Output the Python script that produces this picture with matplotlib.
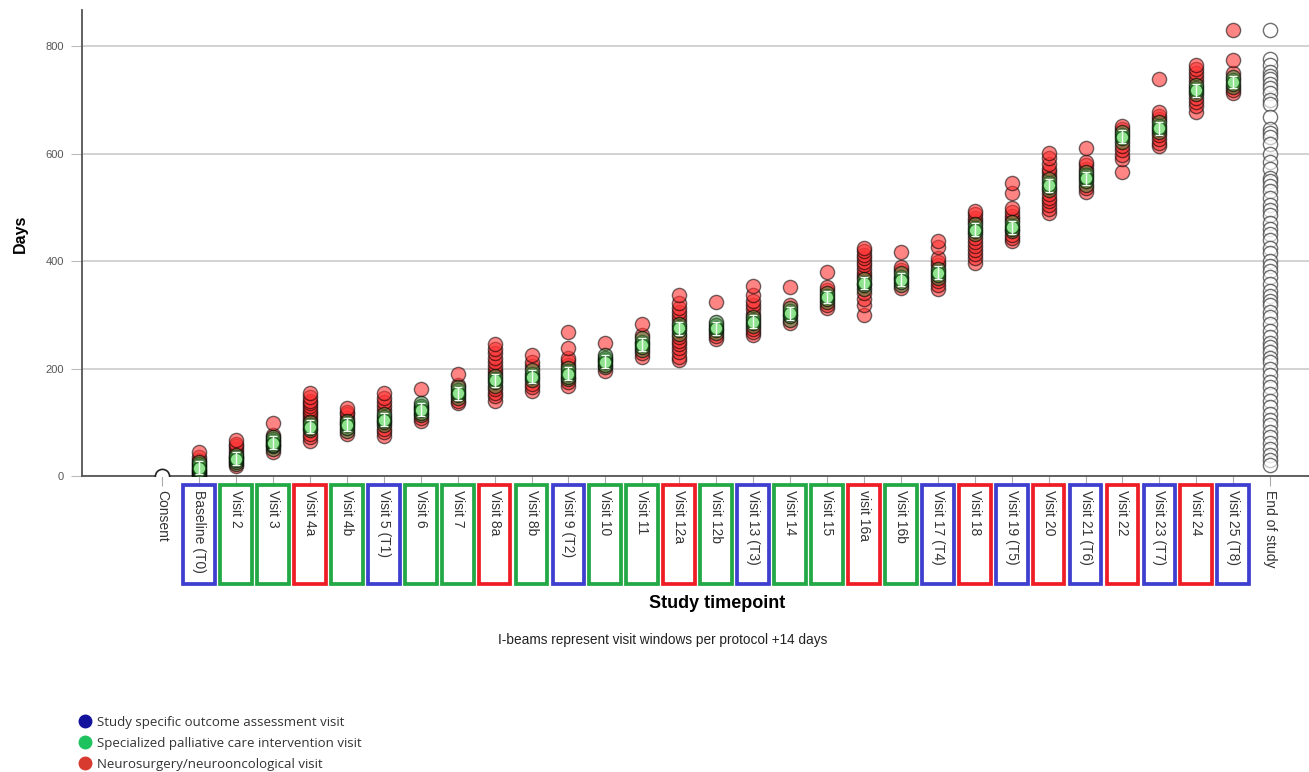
import matplotlib
matplotlib.use("Agg")
import matplotlib.pyplot as plt
from matplotlib.patches import Rectangle
from matplotlib.lines import Line2D
import matplotlib.transforms as mtransforms

# timepoint labels along the x axis
timepoints = ["Consent", "Baseline (T0)", "Visit 2", "Visit 3", "Visit 4a", "Visit 4b",
              "Visit 5 (T1)", "Visit 6", "Visit 7", "Visit 8a", "Visit 8b", "Visit 9 (T2)",
              "Visit 10", "Visit 11", "Visit 12a", "Visit 12b", "Visit 13 (T3)", "Visit 14",
              "Visit 15", "visit 16a", "Visit 16b", "Visit 17 (T4)", "Visit 18",
              "Visit 19 (T5)", "Visit 20", "Visit 21 (T6)", "Visit 22", "Visit 23 (T7)",
              "Visit 24", "Visit 25 (T8)", "End of study"]

# visit type of each box: A = outcome assessment, P = palliative care, N = neurosurgery
visit_types = ["", "A", "P", "P", "N", "P", "A", "P", "P", "N", "P", "A", "P", "P", "N", "P",
               "A", "P", "P", "N", "P", "A", "N", "A", "N", "A", "N", "A", "N", "A", ""]

# observed day of each visit (one list per timepoint)
consent = [0]
baseline = [0, 3, 6, 9, 12, 15, 18, 22, 26, 30, 35, 45]
visit2 = [18, 22, 26, 30, 33, 36, 40, 45, 50, 55, 60, 67]
visit3 = [45, 50, 55, 58, 62, 65, 68, 72, 76, 99]
visit4a = [65, 72, 78, 85, 90, 95, 100, 105, 110, 115, 120, 125, 130, 135, 140, 147, 155]
visit4b = [78, 84, 90, 94, 98, 103, 108, 115, 120, 127]
visit5 = [75, 82, 88, 95, 100, 105, 110, 116, 122, 130, 138, 146, 155]
visit6 = [102, 108, 113, 118, 122, 126, 130, 135, 162]
visit7 = [135, 140, 146, 151, 155, 160, 165, 170, 190]
visit8a = [140, 148, 155, 162, 168, 174, 180, 186, 192, 198, 205, 212, 220, 228, 236, 246]
visit8b = [158, 165, 172, 178, 184, 190, 197, 205, 213, 226]
visit9 = [168, 175, 180, 185, 190, 195, 201, 207, 214, 220, 238, 268]
visit10 = [196, 202, 207, 212, 216, 220, 225, 248]
visit11 = [222, 228, 234, 240, 245, 250, 256, 262, 282]
visit12a = [215, 222, 230, 238, 245, 252, 258, 265, 271, 277, 283, 290, 297, 305, 313, 322, 336]
visit12b = [255, 260, 266, 271, 276, 281, 287, 324]
visit13 = [262, 268, 274, 280, 285, 290, 296, 302, 310, 318, 325, 336, 354]
visit14 = [285, 291, 297, 302, 307, 313, 318, 352]
visit15 = [312, 318, 324, 330, 335, 340, 346, 352, 380]
visit16a = [300, 318, 330, 340, 348, 355, 360, 366, 372, 378, 385, 392, 398, 405, 412, 418, 424]
visit16b = [350, 355, 361, 366, 371, 377, 383, 388, 416]
visit17 = [348, 355, 362, 368, 374, 379, 385, 392, 398, 405, 426, 437]
visit18 = [396, 405, 413, 420, 428, 436, 443, 450, 456, 462, 468, 474, 480, 487, 493]
visit19 = [437, 443, 449, 455, 460, 466, 472, 478, 484, 491, 498, 526, 545]
visit20 = [490, 497, 504, 511, 518, 525, 532, 538, 545, 552, 558, 565, 572, 580, 592, 601]
visit21 = [528, 535, 542, 548, 554, 560, 566, 572, 578, 584, 610]
visit22 = [566, 590, 598, 606, 614, 622, 628, 634, 640, 646, 652]
visit23 = [614, 620, 627, 634, 640, 646, 652, 658, 664, 670, 677, 739]
visit24 = [678, 688, 696, 703, 710, 716, 722, 728, 735, 742, 750, 758, 765]
visit25 = [712, 718, 724, 730, 736, 742, 750, 774, 830]
end_of_study = [830, 775, 765, 752, 745, 738, 730, 722, 712, 700, 692, 668, 645, 638, 630,
                618, 600, 585, 572, 555, 548, 540, 530, 518, 505, 495, 485, 470, 460, 450,
                440, 425, 415, 400, 390, 382, 370, 358, 345, 335, 325, 318, 305, 295, 282,
                270, 258, 248, 240, 230, 220, 212, 200, 188, 175, 165, 152, 140, 128, 115,
                105, 95, 82, 72, 62, 50, 40, 30, 20]

visits = [baseline, visit2, visit3, visit4a, visit4b, visit5, visit6, visit7, visit8a,
          visit8b, visit9, visit10, visit11, visit12a, visit12b, visit13, visit14, visit15,
          visit16a, visit16b, visit17, visit18, visit19, visit20, visit21, visit22, visit23,
          visit24, visit25]

# protocol day of each visit (centre of the I-beam)
protocol_day = [15, 32, 62, 92, 95, 105, 123, 154, 178, 185, 190, 213, 244, 275, 275,
                287, 303, 333, 359, 365, 378, 458, 463, 541, 554, 631, 647, 718, 733]
window_half = 12

box_colors = {"A": "#3f3fcf", "P": "#22a845", "N": "#ee1d25"}
legend_labels = ["Study specific outcome assessment visit",
                 "Specialized palliative care intervention visit",
                 "Neurosurgery/neurooncological visit"]
legend_colors = ["#12129c", "#1fc35e", "#d93a30"]

plt.rcParams["font.family"] = ["Liberation Sans", "DejaVu Sans"]

fig = plt.figure(figsize=(13.09, 7.72), dpi=100)
ax = fig.add_axes([82 / 1309, 1 - 476 / 772, 1 - 82 / 1309, 466 / 772])

# individual visits, green inside the visit window, red outside
for i, days in enumerate(visits, start=1):
    centre = protocol_day[i - 1]
    inside = [d for d in days if abs(d - centre) <= window_half]
    outside = [d for d in days if abs(d - centre) > window_half]
    ax.scatter([i] * len(outside), outside, s=105, facecolor=(1.0, 0.2, 0.2, 0.6),
               edgecolor=(0, 0, 0, 0.55), linewidth=1.0, zorder=3)
    ax.scatter([i] * len(inside), inside, s=105, facecolor=(0.25, 0.55, 0.25, 0.55),
               edgecolor=(0, 0, 0, 0.6), linewidth=1.0, zorder=3)

# visit windows: green marker + I-beam
xs = list(range(1, len(visits) + 1))
ax.scatter(xs, protocol_day, s=80, facecolor="#8fe38f", edgecolor=(0, 0.25, 0, 0.7),
           linewidth=1.0, zorder=4)
ax.errorbar(xs, protocol_day, yerr=window_half, fmt="none", ecolor="#f2fbf2",
            elinewidth=1.0, capsize=3, capthick=1.0, zorder=5)

# consent and end of study
ax.scatter([0] * len(consent), consent, s=105, facecolor="white", edgecolor="#222222",
           linewidth=1.2, zorder=3)
ax.scatter([30] * len(end_of_study), end_of_study, s=105, facecolor=(1, 1, 1, 0.6),
           edgecolor=(0.25, 0.25, 0.25, 0.75), linewidth=1.0, zorder=3)

ax.set_xlim(-2.17, 31.05)
ax.set_ylim(0, 867)
ax.set_yticks([0, 200, 400, 600, 800])
ax.yaxis.grid(True, color="#cfcfcf", linewidth=1.3)
ax.set_axisbelow(True)
ax.set_xticks(range(len(timepoints)))
ax.set_xticklabels(timepoints, rotation=-90, va="top", ha="center", fontsize=10,
                   color="#333333")
ax.tick_params(axis="x", length=7, color="#aaaaaa", pad=3)
ax.tick_params(axis="y", length=8, color="#bbbbbb", labelsize=8, labelcolor="#555555",
               pad=5)
for side in ["top", "right"]:
    ax.spines[side].set_visible(False)
for side in ["left", "bottom"]:
    ax.spines[side].set_color("#555555")
    ax.spines[side].set_linewidth(1.3)

ax.set_ylabel("Days", fontsize=11.5, fontweight="bold")
ax.yaxis.set_label_coords(-0.044, 0.52)

# coloured frames round the visit labels
trans = mtransforms.blended_transform_factory(ax.transData, ax.transAxes)
for i, kind in enumerate(visit_types):
    if not kind:
        continue
    ax.add_patch(Rectangle((i - 0.43, -0.231), 0.86, 0.212, transform=trans,
                           fill=False, edgecolor=box_colors[kind], linewidth=2.7,
                           clip_on=False))

fig.text(717 / 1309, 1 - 604 / 772, "Study timepoint", ha="center", va="center",
         fontsize=13, fontweight="bold")
fig.text(663 / 1309, 1 - 640 / 772, "I-beams represent visit windows per protocol +14 days",
         ha="center", va="center", fontsize=9.8, color="#222222")

handles = [Line2D([], [], marker="o", linestyle="none", markersize=9,
                  markerfacecolor=c, markeredgecolor=c) for c in legend_colors]
fig.legend(handles, legend_labels, loc="upper left",
           bbox_to_anchor=(72 / 1309, 1 - 709 / 772), frameon=False,
           prop={"family": "Open Sans", "size": 9.5}, labelcolor="#333333",
           handletextpad=0.42, labelspacing=0.62, handlelength=1.0, borderpad=0)

fig.savefig("out.png", dpi=100)
